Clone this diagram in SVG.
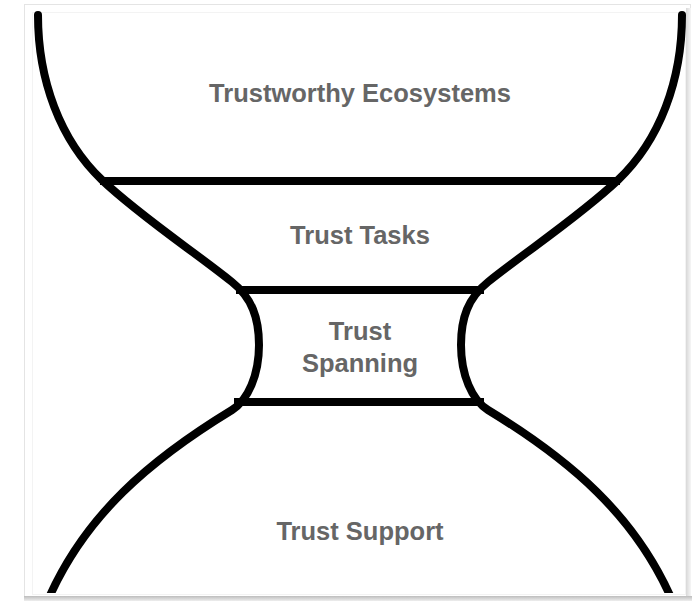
<svg xmlns="http://www.w3.org/2000/svg" width="696" height="602" viewBox="0 0 696 602">
  <defs>
    <style>
      .curve { fill: none; stroke: #000; stroke-width: 8; stroke-linecap: round; stroke-linejoin: round; }
      .bar { stroke: #000; stroke-width: 8; stroke-linecap: butt; }
      .lbl { font-family: "Liberation Sans", Arial, sans-serif; font-weight: bold; font-size: 25.5px; fill: #666; text-anchor: middle; }
    </style>
    <linearGradient id="shadowB" x1="0" y1="0" x2="0" y2="1">
      <stop offset="0" stop-color="#bdbdbd"/>
      <stop offset="1" stop-color="#eeeeee"/>
    </linearGradient>
    <linearGradient id="shadowR" x1="0" y1="0" x2="1" y2="0">
      <stop offset="0" stop-color="#d8d8d8"/>
      <stop offset="1" stop-color="#f6f6f6"/>
    </linearGradient>
    <clipPath id="clip">
      <rect x="0" y="0" width="696" height="593"/>
    </clipPath>
  </defs>

  <rect x="0" y="0" width="696" height="602" fill="#fff"/>

  <g id="frame">
    <rect x="24.5" y="4.5" width="666" height="592" fill="#fff" stroke="#e4e4e4" stroke-width="1"/>
    <rect x="686" y="8" width="5" height="590" fill="url(#shadowR)"/>
    <rect x="24" y="596" width="668" height="5" fill="url(#shadowB)"/>
    <rect x="32.5" y="12.5" width="653" height="582" fill="#fff" stroke="#f3f3f3" stroke-width="1"/>
  </g>

  <g id="connectors" clip-path="url(#clip)">
    <path id="left-outline" class="curve" d="M38,15 C38,80 60,140 102,180 C140,216 192,250 232,282 C252,298 259,318 259,345 C259,375 248,400 232,410 C150,460 85,515 48,600"/>
    <path id="right-outline" class="curve" d="M682,15 C682,80 660,140 618,180 C580,216 528,250 488,282 C468,298 461,318 461,345 C461,375 472,400 488,410 C570,460 635,515 672,600"/>
  </g>

  <g id="bars">
    <line class="bar" x1="100" y1="181" x2="620" y2="181"/>
    <line class="bar" x1="236" y1="290" x2="484" y2="290"/>
    <line class="bar" x1="234" y1="402" x2="484" y2="402"/>
  </g>

  <g id="node-ecosystems">
    <text class="lbl" x="360" y="102">Trustworthy Ecosystems</text>
  </g>
  <g id="node-tasks">
    <text class="lbl" x="360" y="244">Trust Tasks</text>
  </g>
  <g id="node-spanning">
    <text class="lbl" x="360" y="340">Trust</text>
    <text class="lbl" x="360" y="372">Spanning</text>
  </g>
  <g id="node-support">
    <text class="lbl" x="360" y="540">Trust Support</text>
  </g>
</svg>
